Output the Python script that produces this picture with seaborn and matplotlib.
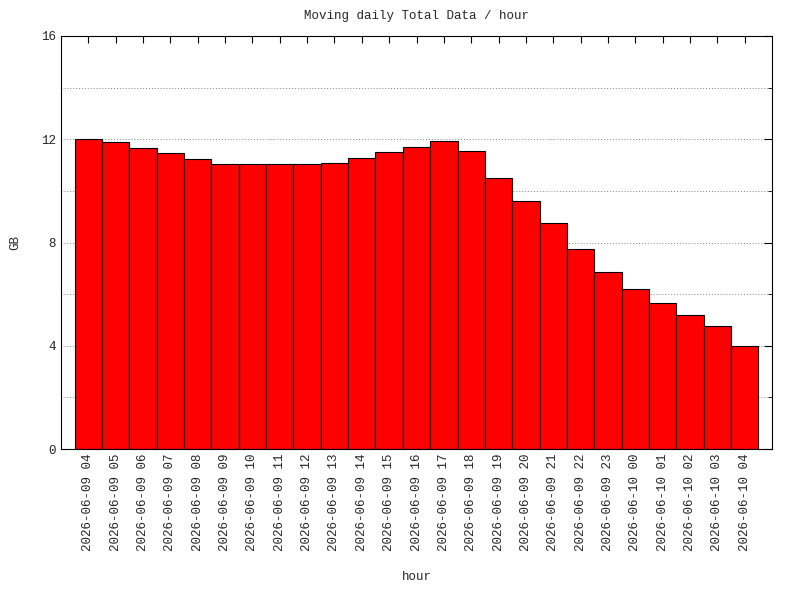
import matplotlib

matplotlib.use("Agg")

import matplotlib.pyplot as plt
import pandas as pd
import seaborn as sns
from matplotlib.ticker import MultipleLocator

hours = [
    "2026-06-09 04", "2026-06-09 05", "2026-06-09 06", "2026-06-09 07", "2026-06-09 08",
    "2026-06-09 09", "2026-06-09 10", "2026-06-09 11", "2026-06-09 12", "2026-06-09 13",
    "2026-06-09 14", "2026-06-09 15", "2026-06-09 16", "2026-06-09 17", "2026-06-09 18",
    "2026-06-09 19", "2026-06-09 20", "2026-06-09 21", "2026-06-09 22", "2026-06-09 23",
    "2026-06-10 00", "2026-06-10 01", "2026-06-10 02", "2026-06-10 03", "2026-06-10 04",
]
gb = [
    12.01, 11.89, 11.66, 11.47, 11.24, 11.04, 11.04, 11.04, 11.04, 11.08,
    11.27, 11.51, 11.70, 11.93, 11.55, 10.50, 9.61, 8.76, 7.75, 6.86,
    6.20, 5.66, 5.19, 4.77, 3.99,
]

sns.set_style("white")
plt.rcParams["font.family"] = ["Liberation Mono", "DejaVu Sans Mono"]
plt.rcParams["font.size"] = 9

df = pd.DataFrame({"hour": hours, "GB": gb})

fig = plt.figure(figsize=(8, 6), dpi=100)
ax = fig.add_axes([61 / 800, 1 - 449 / 600, 711 / 800, 413 / 600])
sns.barplot(data=df, x="hour", y="GB", color="#ff0000", saturation=1, width=1,
            edgecolor="black", linewidth=0.8, ax=ax)
ax.set_xlim(-1, 25)
ax.set_ylim(0, 16)
ax.yaxis.set_major_locator(MultipleLocator(4))
ax.yaxis.set_minor_locator(MultipleLocator(2))
ax.grid(True, which="both", axis="y", linestyle=(0, (1, 2)), color="#808080", linewidth=0.7)
ax.set_axisbelow(True)
for s in ax.spines.values():
    s.set_color("black")
    s.set_linewidth(0.8)
ax.tick_params(axis="both", which="both", direction="in", top=True, right=True, color="black")
ax.tick_params(axis="y", which="major", length=6)
ax.tick_params(axis="y", which="minor", length=3)
ax.tick_params(axis="x", rotation=90, length=5)
ax.set_xlabel("hour", labelpad=14)
ax.set_ylabel("GB", labelpad=14)
ax.set_title("Moving daily Total Data / hour", fontsize=9, pad=12)
fig.savefig("out.png", dpi=100)
